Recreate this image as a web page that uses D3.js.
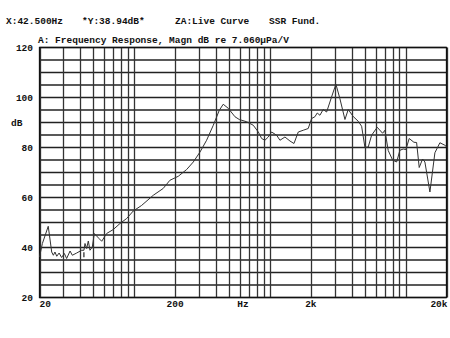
<!DOCTYPE html>
<html>
<head>
<meta charset="utf-8">
<script src="https://cdn.jsdelivr.net/npm/d3@7.9.0/dist/d3.min.js"></script>
<style>
  body { margin: 0; background: #fff; }
  svg text { font-family: "Liberation Mono", "DejaVu Sans Mono", monospace; font-weight: bold; font-size: 9.5px; fill: #111; }
</style>
</head>
<body>
<svg width="450" height="338"></svg>
<script>
// header texts
const headerItems = ['X:42.500Hz', '*Y:38.94dB*', 'ZA:Live Curve', 'SSR Fund.'];
const headerX = [6, 82, 175, 269];
const subtitle = 'A: Frequency Response, Magn dB re 7.060\u00b5Pa/V';

// axis labels
const xTickVals = [20, 200, 2000, 20000];
const xTickText = ['20', '200', '2k', '20k'];
const yTickVals = [20, 40, 60, 80, 100, 120];

// cursor
const cursorFreq = 42.5;
const cursorDb = 38.94;

const freqs = [20, 21, 23.2, 24.6, 25.3, 26.0, 26.8, 27.9, 29.1, 30.5, 31.7, 33.6, 34.9, 37.6, 40.9, 42.5,
  43.3, 44.5, 45.8, 47.1, 49.0, 50.7, 54.9, 57.5, 62.5, 70, 78.4, 87.8, 98.2, 113, 138, 163, 183, 211,
  243, 272, 305, 341, 382, 423, 452, 492, 552, 594, 673, 753, 820, 868, 918, 971, 1028, 1120, 1184,
  1289, 1403, 1502, 1616, 1758, 1913, 2027, 2143, 2229, 2333, 2467, 2615, 2765, 2925, 3062, 3277,
  3568, 3773, 4107, 4470, 4736, 5008, 5297, 5612, 6170, 6763, 7032, 7437, 8011, 8577, 9071, 9592,
  10041, 10619, 11503, 12042, 12586, 13332, 13862, 15092, 16427, 17882, 19464, 20000];
const levels = [36.2, 41.6, 48.5, 38.2, 36.9, 38.2, 36.5, 37.8, 36.0, 37.6, 35.6, 38.6, 36.9, 37.8, 38.9, 38.9,
  41.6, 39.6, 42.6, 38.9, 40.2, 45.6, 43.6, 42.5, 45.6, 47.2, 49.6, 51.6, 54.6, 56.8, 60.9, 63.6, 66.9, 68.5,
  71.2, 74.2, 78.2, 82.9, 88.9, 94.9, 97.3, 95.7, 92.3, 91.2, 90.3, 88.9, 86.2, 83.6, 82.9, 84.2, 86.2, 84.9, 82.9,
  84.2, 82.6, 81.6, 86.2, 86.9, 87.6, 91.6, 92.3, 93.8, 92.9, 95.2, 94.2, 98.2, 102.2, 105.3, 99.5,
  91.2, 95.2, 92.4, 90.5, 88.5, 80.1, 80.2, 84.9, 88.1, 85.7, 86.9, 78.8, 75.0, 74.2, 78.9, 79.4,
  79.2, 83.6, 82.1, 82.0, 72.0, 75.4, 74.2, 62.2, 77.9, 81.9, 80.9, 80.3];

const svg = d3.select('svg');

const x = d3.scaleLog().domain([20, 20000]).range([39.5, 446.5]);
const y = d3.scaleLinear().domain([20, 120]).range([297.5, 47.5]);

// header
svg.selectAll('.hdr').data(headerItems).join('text')
  .attr('class', 'hdr')
  .attr('x', (d, i) => headerX[i])
  .attr('y', 24)
  .text(d => d);

svg.append('text').attr('x', 38).attr('y', 43).text(subtitle);

// grid
const grid = svg.append('g');
grid.selectAll('.hg').data(d3.range(20, 121, 5)).join('line')
  .attr('x1', x(20)).attr('x2', x(20000))
  .attr('y1', d => y(d)).attr('y2', d => y(d))
  .attr('stroke', '#222').attr('stroke-width', 1.3);

grid.selectAll('.vg').data(x.ticks()).join('line')
  .attr('y1', y(120)).attr('y2', y(20))
  .attr('x1', d => Math.round(x(d)) + 0.5).attr('x2', d => Math.round(x(d)) + 0.5)
  .attr('stroke', '#333').attr('stroke-width', 1.3);

svg.append('rect')
  .attr('x', x(20)).attr('y', y(120))
  .attr('width', x(20000) - x(20)).attr('height', y(20) - y(120))
  .attr('fill', 'none').attr('stroke', '#111').attr('stroke-width', 1.3);

// y labels
svg.selectAll('.yl').data(yTickVals).join('text')
  .attr('x', 33).attr('y', d => y(d) + 3.5)
  .attr('text-anchor', 'end')
  .text(d => d);
svg.append('text').attr('x', 11).attr('y', y(90) + 3.5).text('dB');

// x labels
svg.selectAll('.xl').data(xTickVals).join('text')
  .attr('x', (d, i) => i === 3 ? x(d) + 1 : x(d))
  .attr('y', 307)
  .attr('text-anchor', (d, i) => i === 0 ? 'start' : (i === 3 ? 'end' : 'middle'))
  .text((d, i) => xTickText[i]);
svg.append('text').attr('x', (x(20) + x(20000)) / 2).attr('y', 307)
  .attr('text-anchor', 'middle').text('Hz');

// curve
const pts = freqs.map((f, i) => [f, levels[i]]);
svg.append('path')
  .datum(pts)
  .attr('d', d3.line().x(d => x(d[0])).y(d => y(d[1])))
  .attr('fill', 'none').attr('stroke', '#333').attr('stroke-width', 1);

// cursor marker
svg.append('line')
  .attr('x1', x(cursorFreq)).attr('x2', x(cursorFreq))
  .attr('y1', y(cursorDb) + 2).attr('y2', y(cursorDb) + 7)
  .attr('stroke', '#222').attr('stroke-width', 1.2);
</script>
</body>
</html>
